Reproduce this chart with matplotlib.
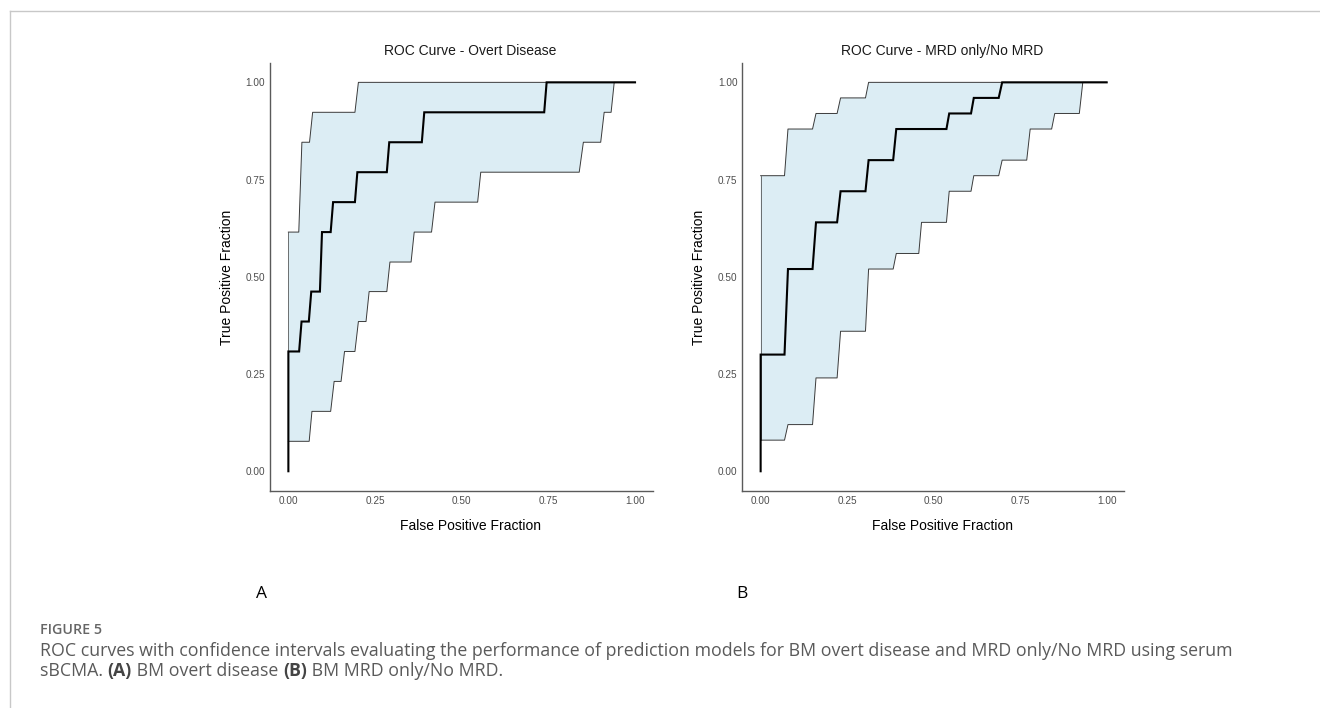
import matplotlib
matplotlib.use("Agg")
import matplotlib.pyplot as plt
from matplotlib.lines import Line2D

plt.rcParams['font.family'] = ['Liberation Sans', 'DejaVu Sans']

# ---------------- data ----------------
titles = ["ROC Curve - Overt Disease", "ROC Curve - MRD only/No MRD"]
panel_letters = ["A", "B"]
xlabel = "False Positive Fraction"
ylabel = "True Positive Fraction"
tick_vals = [0.0, 0.25, 0.5, 0.75, 1.0]
tick_labels = ["0.00", "0.25", "0.50", "0.75", "1.00"]

# Panel A: overt disease
a_roc_x = [0, 0, 0.031, 0.038, 0.059, 0.066, 0.091, 0.097, 0.122, 0.129, 0.192, 0.199,
           0.284, 0.291, 0.385, 0.392, 0.738, 0.745, 1.0]
a_roc_y = [0, 0.308, 0.308, 0.385, 0.385, 0.462, 0.462, 0.615, 0.615, 0.692, 0.692, 0.769,
           0.769, 0.846, 0.846, 0.923, 0.923, 1.0, 1.0]
a_up_x = [0, 0.030, 0.039, 0.061, 0.070, 0.192, 0.202, 1.0]
a_up_y = [0.615, 0.615, 0.846, 0.846, 0.923, 0.923, 1.0, 1.0]
a_lo_x = [0, 0.060, 0.068, 0.122, 0.132, 0.152, 0.162, 0.192, 0.202, 0.224, 0.233, 0.284,
          0.293, 0.354, 0.363, 0.413, 0.423, 0.546, 0.555, 0.839, 0.851, 0.901, 0.911,
          0.931, 0.940, 1.0]
a_lo_y = [0.077, 0.077, 0.154, 0.154, 0.231, 0.231, 0.308, 0.308, 0.385, 0.385, 0.462, 0.462,
          0.538, 0.538, 0.615, 0.615, 0.692, 0.692, 0.769, 0.769, 0.846, 0.846, 0.923,
          0.923, 1.0, 1.0]

# Panel B: MRD only / No MRD
b_roc_x = [0, 0, 0.069, 0.079, 0.150, 0.160, 0.221, 0.231, 0.303, 0.312, 0.383, 0.392,
           0.537, 0.545, 0.608, 0.616, 0.688, 0.698, 1.0]
b_roc_y = [0, 0.30, 0.30, 0.52, 0.52, 0.64, 0.64, 0.72, 0.72, 0.80, 0.80, 0.88,
           0.88, 0.92, 0.92, 0.96, 0.96, 1.0, 1.0]
b_up_x = [0, 0.069, 0.079, 0.150, 0.160, 0.221, 0.231, 0.303, 0.312, 1.0]
b_up_y = [0.76, 0.76, 0.88, 0.88, 0.92, 0.92, 0.96, 0.96, 1.0, 1.0]
b_lo_x = [0, 0.069, 0.079, 0.150, 0.160, 0.221, 0.231, 0.303, 0.312, 0.383, 0.392, 0.457,
          0.465, 0.537, 0.545, 0.608, 0.616, 0.688, 0.698, 0.769, 0.779, 0.841, 0.850,
          0.921, 0.931, 1.0]
b_lo_y = [0.08, 0.08, 0.12, 0.12, 0.24, 0.24, 0.36, 0.36, 0.52, 0.52, 0.56, 0.56,
          0.64, 0.64, 0.72, 0.72, 0.76, 0.76, 0.80, 0.80, 0.88, 0.88, 0.92,
          0.92, 1.0, 1.0]

caption_head = "FIGURE 5"
caption_l1 = ("ROC curves with confidence intervals evaluating the performance of prediction "
              "models for BM overt disease and MRD only/No MRD using serum")
# second caption line as (text, bold) pieces
caption_l2 = [("sBCMA. ", False), ("(A)", True), (" BM overt disease ", False),
              ("(B)", True), (" BM MRD only/No MRD.", False)]

panels = [
    (a_roc_x, a_roc_y, a_up_x, a_up_y, a_lo_x, a_lo_y),
    (b_roc_x, b_roc_y, b_up_x, b_up_y, b_lo_x, b_lo_y),
]

# ---------------- figure ----------------
W, H = 1320, 708
fig = plt.figure(figsize=(W / 100, H / 100), dpi=100)

def fx(px):
    return px / W

def fy(py):
    return 1 - py / H

# frame lines of the figure page
fig.add_artist(Line2D([fx(9.5), fx(9.5)], [fy(11), fy(708)], color="#c8c8c8", lw=1.0))
fig.add_artist(Line2D([fx(9.5), fx(1320)], [fy(11), fy(11)], color="#c8c8c8", lw=1.0))

axes_left_px = [270, 742.3]
axes_right_px = [652.7, 1124.3]
top_px, bot_px = 63.3, 490.7

fill_col = "#dcedf4"
edge_col = "#3a3a3a"
spine_col = "#5a5a5a"
text_gray = "#4d4d4d"

for i, (rx, ry, ux, uy, lx, ly) in enumerate(panels):
    l, r = axes_left_px[i], axes_right_px[i]
    ax = fig.add_axes([fx(l), fy(bot_px), fx(r - l), fy(top_px) - fy(bot_px)])
    poly_x = list(ux) + list(lx)[::-1]
    poly_y = list(uy) + list(ly)[::-1]
    ax.fill(poly_x, poly_y, color=fill_col, lw=0, zorder=1)
    ax.plot(ux, uy, color=edge_col, lw=0.7, zorder=2)
    ax.plot(lx, ly, color=edge_col, lw=0.7, zorder=2)
    ax.plot([0, 0], [ly[0], uy[0]], color=edge_col, lw=0.5, zorder=2)
    ax.plot(rx, ry, color="black", lw=1.5, zorder=3, solid_joinstyle="miter")

    ax.set_xlim(-0.053, 1.051)
    ax.set_ylim(-0.05, 1.049)
    ax.set_xticks(tick_vals)
    ax.set_xticklabels(tick_labels)
    ax.set_yticks(tick_vals)
    ax.set_yticklabels(tick_labels)
    ax.tick_params(length=0, labelsize=7.2, colors=text_gray, pad=3.5)
    for s in ["top", "right"]:
        ax.spines[s].set_visible(False)
    for s in ["left", "bottom"]:
        ax.spines[s].set_color(spine_col)
        ax.spines[s].set_linewidth(1.0)
    ax.set_facecolor("white")

    cx = (l + r) / 2 + 9
    fig.text(fx(cx), fy(51), titles[i], ha="center", va="center", fontsize=10, color="#1a1a1a")
    fig.text(fx(cx), fy(526), xlabel, ha="center", va="center", fontsize=10, color="black")
    fig.text(fx(l - 43), fy(277), ylabel, ha="center", va="center", rotation=90,
             fontsize=10, color="black")

cap_family = ["Open Sans", "DejaVu Sans"]

# panel letters
fig.text(fx(262), fy(594), panel_letters[0], ha="center", va="center", fontsize=12.5, color="black",
         family=cap_family)
fig.text(fx(742), fy(594), panel_letters[1], ha="center", va="center", fontsize=12.5, color="black",
         family=cap_family)

# caption
cap_size = 12.8
x0 = 40
fig.text(fx(x0), fy(629.5), caption_head, ha="left", va="center", fontsize=10.3, color="#666666",
         family=cap_family, fontweight="semibold")
fig.text(fx(x0), fy(651), caption_l1, ha="left", va="center", fontsize=cap_size, color="#5a5a5a",
         family=cap_family)

renderer = fig.canvas.get_renderer()
x_px = float(x0)
for txt, bold in caption_l2:
    t = fig.text(fx(x_px), fy(671), txt, ha="left", va="center", fontsize=cap_size,
                 color="#444444" if bold else "#5a5a5a", family=cap_family,
                 fontweight="bold" if bold else "normal")
    bb = t.get_window_extent(renderer=renderer)
    x_px += bb.width

fig.savefig("out.png", dpi=100)
